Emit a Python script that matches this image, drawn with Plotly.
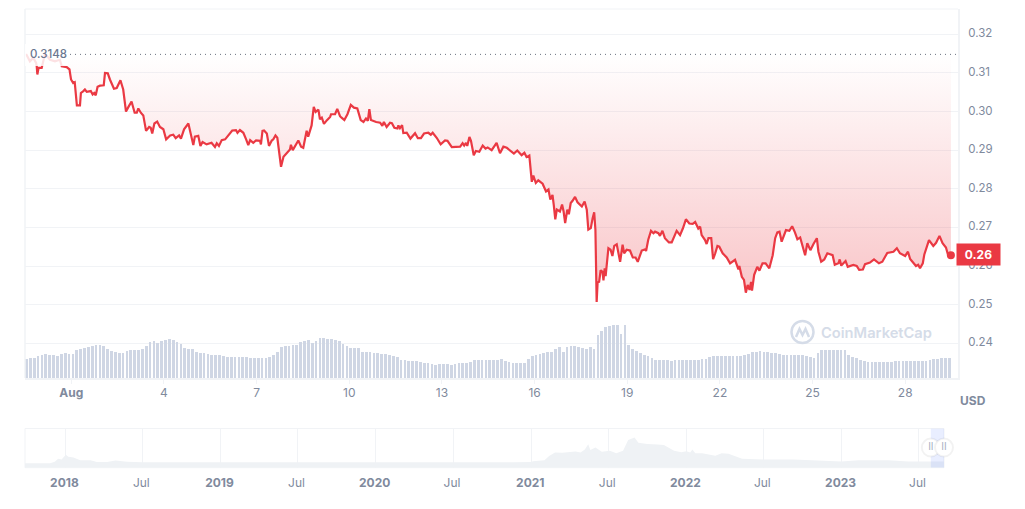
import pandas as pd
import plotly.graph_objects as go

W, H = 1025, 509

# price, days since 1 Aug 2023
price_days = [
    -1.48, -1.45, -1.34, -1.23, -1.14, -1.12, -1.10, -1.06, -0.96, -0.85, -0.69, -0.53, -0.37, -0.31, -0.15, -0.06, -0.01,
    0.06, 0.11, 0.15, 0.18, 0.28, 0.31, 0.39, 0.44, 0.50, 0.63, 0.69, 0.74, 0.79, 0.85, 0.93, 1.05, 1.09, 1.18, 1.25,
    1.38, 1.47, 1.59, 1.68, 1.77, 1.85, 1.95, 2.05, 2.12, 2.17, 2.25, 2.33, 2.42, 2.52, 2.57, 2.62, 2.69, 2.78, 2.87, 2.98,
    3.07, 3.20, 3.30, 3.38, 3.49, 3.55, 3.65, 3.79, 3.88, 3.95, 4.00, 4.11, 4.18, 4.25, 4.38, 4.54, 4.65, 4.71, 4.78, 4.87, 4.98,
    5.14, 5.21, 5.33, 5.38, 5.46, 5.57, 5.66, 5.73, 5.79, 5.89, 5.98, 6.11, 6.14, 6.19, 6.24, 6.33, 6.40, 6.49, 6.54, 6.61, 6.67,
    6.74, 6.79, 6.87, 6.97, 7.08, 7.11, 7.17, 7.35, 7.44, 7.51, 7.62, 7.67, 7.78, 7.85, 7.91, 8.00, 8.05, 8.11, 8.18, 8.27, 8.38, 8.41, 8.54, 8.61, 8.70,
    8.75, 8.84, 8.94, 8.99, 9.05, 9.15, 9.26, 9.37, 9.46, 9.54, 9.60, 9.65, 9.70, 9.87, 10.00, 10.07, 10.12, 10.21, 10.32, 10.38,
    10.46, 10.56, 10.59, 10.64, 10.71, 10.75, 10.86, 10.98, 11.13, 11.22, 11.32, 11.42, 11.56, 11.64, 11.70, 11.83, 11.96, 12.10, 12.18, 12.32,
    12.42, 12.59, 12.67, 12.72, 12.78, 12.82, 12.89, 12.94, 13.03, 13.10, 13.21, 13.32, 13.41, 13.48, 13.61, 13.70, 13.77, 13.88, 13.99, 14.10,
    14.23, 14.33, 14.44, 14.58, 14.67, 14.74, 14.83, 14.87, 14.91, 14.96, 15.04, 15.12, 15.26, 15.37, 15.45, 15.51, 15.58, 15.62, 15.67, 15.72,
    15.82, 15.89, 15.94, 15.99, 16.06, 16.11, 16.17, 16.23, 16.31, 16.39, 16.53, 16.62, 16.69, 16.74, 16.82, 16.88, 16.93, 16.97, 17.01, 17.04,
    17.09, 17.14, 17.20, 17.23, 17.27, 17.30, 17.39, 17.46, 17.52, 17.58, 17.66, 17.77, 17.85, 17.90, 17.98, 18.09, 18.18, 18.27, 18.34, 18.47,
    18.58, 18.61, 18.68, 18.77, 18.85, 18.90, 19.01, 19.06, 19.14, 19.22, 19.35, 19.44, 19.60, 19.71,
    19.80, 19.90, 20.01, 20.12, 20.20, 20.30, 20.36, 20.41, 20.52, 20.57, 20.63, 20.72, 20.78, 20.85, 20.92, 20.98, 21.09, 21.22, 21.33, 21.49,
    21.60, 21.63, 21.71, 21.78, 21.84, 21.90, 21.96, 22.01, 22.04, 22.11, 22.21, 22.28, 22.38, 22.48, 22.60, 22.71, 22.79, 22.86, 22.93, 23.00,
    23.14, 23.25, 23.34, 23.43, 23.51, 23.60, 23.68, 23.76, 23.83, 23.93, 24.03, 24.14, 24.19, 24.28, 24.38, 24.48, 24.65, 24.72, 24.84, 24.88,
    24.93, 25.07, 25.14, 25.32, 25.43, 25.51, 25.63, 25.70, 25.86, 25.99, 26.15, 26.26, 26.42, 26.62, 26.73, 26.83, 27.00, 27.09, 27.16, 27.29,
    27.35, 27.42, 27.48, 27.57, 27.62, 27.77, 27.86, 27.91, 28.00, 28.11, 28.21, 28.32, 28.39, 28.48,
]
prices = [
    .3147, .3147, .3130, .3139, .3126, .3117, .3096, .3113, .3113, .3150, .3134, .3130, .3134, .3117, .3115, .3109, .3083,
    .3074, .3076, .3048, .3016, .3016, .3048, .3053, .3057, .3051, .3053, .3044, .3048, .3042, .3064, .3067, .3068, .3100, .3099, .3083,
    .3059, .3061, .3081, .3057, .3000, .3012, .3026, .2997, .2997, .3008, .2997, .2990, .2950, .2960, .2958, .2943, .2969, .2974, .2960, .2954,
    .2928, .2938, .2940, .2931, .2938, .2930, .2954, .2969, .2932, .2913, .2935, .2937, .2911, .2921, .2915, .2919, .2908, .2918, .2911, .2926, .2928,
    .2943, .2951, .2952, .2945, .2952, .2945, .2928, .2913, .2926, .2919, .2925, .2924, .2915, .2950, .2951, .2943, .2911, .2925, .2928, .2938, .2932,
    .2889, .2857, .2883, .2892, .2902, .2914, .2900, .2925, .2909, .2906, .2950, .2935, .2964, .3012, .2999, .3005, .2980, .2984, .2968, .2977, .2986, .2993, .2993, .3007, .2988,
    .2984, .2978, .2993, .3006, .3017, .3010, .3008, .2978, .2973, .2982, .2976, .3006, .2978, .2973, .2971, .2963, .2973, .2960, .2971, .2970,
    .2958, .2956, .2964, .2957, .2965, .2944, .2945, .2930, .2944, .2931, .2931, .2943, .2945, .2940, .2945, .2932, .2915, .2925, .2924, .2908,
    .2909, .2909, .2918, .2912, .2919, .2911, .2934, .2924, .2887, .2898, .2896, .2912, .2904, .2907, .2900, .2911, .2919, .2892, .2909, .2906,
    .2898, .2891, .2899, .2887, .2893, .2882, .2886, .2854, .2818, .2834, .2815, .2822, .2813, .2793, .2798, .2772, .2784, .2759, .2721, .2746,
    .2741, .2759, .2741, .2711, .2746, .2734, .2763, .2769, .2779, .2765, .2754, .2767, .2746, .2694, .2698, .2724, .2739, .2694, .2507, .2557,
    .2559, .2589, .2585, .2563, .2594, .2574, .2646, .2642, .2626, .2652, .2656, .2611, .2655, .2633, .2642, .2640, .2622, .2622, .2611, .2640,
    .2643, .2639, .2668, .2691, .2685, .2689, .2685, .2678, .2691, .2672, .2661, .2661, .2691, .2680,
    .2697, .2721, .2710, .2709, .2714, .2697, .2702, .2680, .2667, .2657, .2672, .2672, .2618, .2633, .2652, .2650, .2633, .2622, .2607, .2616,
    .2591, .2600, .2572, .2564, .2531, .2551, .2538, .2559, .2536, .2577, .2598, .2588, .2607, .2607, .2594, .2628, .2672, .2687, .2689, .2663,
    .2693, .2691, .2703, .2687, .2669, .2674, .2654, .2628, .2659, .2641, .2657, .2672, .2637, .2611, .2617, .2633, .2628, .2603, .2607, .2617,
    .2601, .2613, .2598, .2603, .2600, .2590, .2591, .2605, .2609, .2617, .2607, .2611, .2634, .2637, .2646, .2633, .2626, .2637, .2618, .2607,
    .2600, .2603, .2594, .2607, .2630, .2667, .2656, .2652, .2660, .2678, .2659, .2648, .2628, .2628,
]
base_price = 0.3148

# 3-hourly volume, arbitrary units
volumes = [
    57, 59, 60, 67, 70, 72, 70, 69, 67, 72, 74, 72, 72, 84, 87, 90, 93, 95, 100, 98, 96, 87, 80, 78, 75, 74, 80, 83, 85, 85,
    86, 95, 107, 112, 105, 110, 115, 116, 113, 107, 102, 91, 88, 88, 78, 76, 74, 71, 70, 70, 69, 65, 64, 64, 64, 64, 64, 64, 61, 61,
    61, 61, 61, 64, 70, 77, 92, 96, 97, 98, 100, 109, 112, 114, 104, 112, 119, 120, 118, 117, 114, 112, 102, 95, 91, 89, 89, 79, 79, 79,
    76, 75, 73, 71, 69, 67, 62, 55, 53, 52, 52, 52, 47, 46, 45, 43, 40, 42, 42, 41, 40, 43, 45, 46, 46, 47, 53, 55, 55, 55,
    55, 55, 55, 58, 52, 48, 46, 45, 45, 45, 57, 67, 70, 72, 74, 77, 79, 87, 94, 77, 94, 96, 95, 93, 89, 87, 94, 87, 130, 142,
    152, 157, 159, 158, 132, 158, 100, 88, 80, 74, 69, 65, 60, 55, 55, 54, 53, 52, 54, 54, 53, 53, 53, 54, 55, 56, 58, 63, 66, 66,
    66, 66, 66, 66, 66, 66, 70, 73, 78, 79, 80, 79, 77, 76, 74, 73, 70, 69, 69, 69, 68, 68, 66, 64, 60, 75, 83, 83, 84, 85,
    84, 84, 83, 70, 62, 59, 55, 51, 48, 48, 47, 47, 47, 47, 49, 50, 50, 51, 52, 52, 52, 51, 50, 52, 54, 56, 58, 59, 59, 59,
]

# navigator: full price history
nav_dates = [
    "2017-09-28", "2017-11-26", "2017-12-07", "2017-12-15", "2017-12-23", "2018-01-02", "2018-01-08", "2018-01-20", "2018-02-05", "2018-03-01",
    "2018-03-16", "2018-04-09", "2018-04-29", "2018-05-26", "2018-07-01", "2018-07-29", "2018-09-08", "2019-01-01", "2019-07-01", "2020-01-01",
    "2020-07-01", "2020-11-20", "2021-01-01", "2021-01-05", "2021-02-01", "2021-02-12", "2021-02-26", "2021-03-15", "2021-04-15", "2021-04-27",
    "2021-05-07", "2021-05-15", "2021-05-20", "2021-06-01", "2021-06-16", "2021-07-05", "2021-07-20", "2021-08-05", "2021-08-17", "2021-09-01",
    "2021-09-10", "2021-10-01", "2021-10-25", "2021-11-09", "2021-12-03", "2021-12-20", "2022-01-01", "2022-01-10", "2022-01-15", "2022-01-22",
    "2022-02-07", "2022-03-10", "2022-03-25", "2022-04-10", "2022-05-12", "2022-06-03", "2022-07-01", "2022-09-10", "2023-01-01", "2023-02-10",
    "2023-04-20", "2023-06-08", "2023-07-28", "2023-08-30",
]
nav_prices = [
    .18, .18, .25, .37, .34, .53, .45, .42, .31, .31,
    .23, .23, .30, .25, .22, .22, .19, .19, .19, .19,
    .22, .22, .23, .27, .31, .48, .63, .62, .67, .63,
    .75, .97, .73, .83, .66, .70, .60, .70, 1.14, 1.24,
    1.03, .98, .96, .93, .70, .64, .68, .63, .75, .60,
    .60, .49, .60, .57, .37, .36, .34, .34, .26, .31,
    .31, .26, .26, .26,
]
nav_range = ["2023-07-30", "2023-08-30"]
nav_top = 1.614

main_tick_days = [0, 3, 6, 9, 12, 15, 18, 21, 24, 27]
main_tick_text = ["<b>Aug</b>", "4", "7", "10", "13", "16", "19", "22", "25", "28"]
y_ticks = [0.24, 0.25, 0.26, 0.27, 0.28, 0.29, 0.30, 0.31, 0.32]
nav_ticks = ["2018-01-01", "2018-07-01", "2019-01-01", "2019-07-01", "2020-01-01", "2020-07-01",
             "2021-01-01", "2021-07-01", "2022-01-01", "2022-07-01", "2023-01-01", "2023-07-01"]
nav_tick_text = ["<b>2018</b>", "Jul", "<b>2019</b>", "Jul", "<b>2020</b>", "Jul",
                 "<b>2021</b>", "Jul", "<b>2022</b>", "Jul", "<b>2023</b>", "Jul"]

RED = "#EA3943"
GREY = "#808A9D"
GRID = "#F1F3F6"
FONT = "Inter"

aug1 = pd.Timestamp("2023-08-01")
def day(d):
    return aug1 + pd.to_timedelta(d, unit="D")

def px(x):
    return x / W

def py(y):
    return 1 - y / H

x_price = [day(d) for d in price_days]
x_vol = pd.date_range(day(-1.45), periods=len(volumes), freq="3h")

fig = go.Figure()

fig.add_trace(go.Bar(x=x_vol, y=volumes, width=7.6e6, marker=dict(color="#CFD6E4", line_width=0),
                     xaxis="x", yaxis="y2", hoverinfo="skip"))
fig.add_trace(go.Scatter(x=x_price, y=[base_price] * len(x_price), mode="lines", line=dict(width=0),
                         xaxis="x", yaxis="y", hoverinfo="skip"))
fig.add_trace(go.Scatter(x=x_price, y=prices, mode="lines", line=dict(color=RED, width=2.2),
                         fill="tonexty",
                         fillgradient=dict(type="vertical", start=0.2507, stop=base_price,
                                           colorscale=[[0, "rgba(234,57,67,0.30)"], [1, "rgba(234,57,67,0.0)"]]),
                         xaxis="x", yaxis="y"))
fig.add_trace(go.Scatter(x=[x_price[-1]], y=[prices[-1]], mode="markers",
                         marker=dict(color=RED, size=8), xaxis="x", yaxis="y", cliponaxis=False))

fig.add_trace(go.Scatter(x=nav_dates, y=nav_prices, mode="lines", line=dict(width=0),
                         fill="tozeroy", fillcolor="#EFF2F5", xaxis="x2", yaxis="y3", hoverinfo="skip"))
# selected range, then its two handles on top
fig.add_trace(go.Scatter(x=nav_range, y=[nav_top, nav_top], mode="lines", line=dict(width=0),
                         fill="tozeroy", fillcolor="rgba(56,97,251,0.11)", xaxis="x2", yaxis="y3", hoverinfo="skip"))
fig.add_trace(go.Scatter(x=nav_range, y=[0.83, 0.83], mode="markers+text", text=["II", "II"],
                         textposition="middle center", textfont=dict(family=FONT, size=10, color="#A6B0C3"),
                         marker=dict(color="white", size=18, line=dict(color="rgba(0,0,0,0.05)", width=2)),
                         xaxis="x2", yaxis="y3", cliponaxis=False, hoverinfo="skip"))

fig.update_layout(
    width=W, height=H, margin=dict(l=0, r=0, t=0, b=0), showlegend=False,
    paper_bgcolor="white", plot_bgcolor="white", bargap=0,
    font=dict(family=FONT, size=12, color=GREY),
    xaxis=dict(domain=[px(25), px(958)], range=[day(-1.5), day(28.71)], anchor="y",
               tickmode="array", tickvals=[day(d) for d in main_tick_days], ticktext=main_tick_text,
               showgrid=False, zeroline=False, showline=True, linecolor=GRID, linewidth=2,
               ticks="outside", ticklen=4, tickcolor=GRID, ticklabelstandoff=-1, tickfont=dict(size=12, color=GREY)),
    yaxis=dict(domain=[py(378), py(9)], range=[0.2310, 0.32655], side="right", anchor="x",
               tickmode="array", tickvals=y_ticks, tickformat=".2f",
               showgrid=True, gridcolor=GRID, gridwidth=1, zeroline=False,
               showline=True, linecolor=GRID, linewidth=2, ticks="", ticklabelstandoff=6, ticklabelshift=-1,
               tickfont=dict(size=11.5, color=GREY)),
    yaxis2=dict(domain=[py(378), py(9)], range=[0, 1107], overlaying="y", anchor="x", visible=False),
    xaxis2=dict(domain=[px(25), px(944)], range=["2017-09-28", "2023-08-30"], anchor="y3",
                tickmode="array", tickvals=nav_ticks, ticktext=nav_tick_text,
                showgrid=True, gridcolor=GRID, zeroline=False, showline=False, ticks="",
                ticklabelstandoff=6, ticklabelshift=-1, tickfont=dict(size=12, color=GREY)),
    yaxis3=dict(domain=[py(467.7), py(428.5)], range=[0, nav_top], anchor="x2",
                showgrid=False, zeroline=False, showticklabels=False, ticks=""),
)

fig.update_layout(shapes=[
    # top edge and left edge of the main plot
    dict(type="line", xref="paper", yref="paper", x0=px(25), x1=px(958), y0=py(9), y1=py(9),
         line=dict(color=GRID, width=1)),
    dict(type="line", xref="paper", yref="paper", x0=px(25), x1=px(25), y0=py(9), y1=py(378),
         line=dict(color=GRID, width=1.5)),
    # white veil behind the base price label
    dict(type="rect", xref="paper", yref="paper", x0=px(25), x1=px(68), y0=py(66), y1=py(44),
         fillcolor="rgba(255,255,255,0.85)", line_width=0, layer="above"),
    # base price dotted line
    dict(type="line", xref="paper", yref="y", x0=px(70), x1=px(958), y0=base_price, y1=base_price,
         line=dict(color="#6B7280", width=1, dash="1px 4px")),
    # navigator frame
    dict(type="rect", xref="paper", yref="paper", x0=px(25), x1=px(944), y0=py(467.7), y1=py(428.5),
         line=dict(color=GRID, width=1), layer="below"),
    # watermark logo
    dict(type="circle", xref="paper", yref="paper", x0=px(791.5), x1=px(813.5), y0=py(343), y1=py(321),
         line=dict(color="#D5DCE8", width=2.5)),
    dict(type="path", xref="paper", yref="paper",
         path=f"M {px(796)} {py(337)} L {px(799.5)} {py(329)} L {px(802.5)} {py(335)} L {px(805.5)} {py(329)} L {px(809)} {py(337)}",
         line=dict(color="#D5DCE8", width=2.5)),
])

fig.update_layout(annotations=[
    dict(text="0.3148", xref="paper", yref="y", x=px(28), y=base_price, xanchor="left", yanchor="middle",
         showarrow=False, font=dict(family=FONT, size=11.5, color="#6B7790", weight=500)),
    dict(text="<b>0.26</b>", xref="paper", yref="paper", x=px(978.5), y=py(254.5), xanchor="center", yanchor="middle",
         showarrow=False, width=41, height=19, bgcolor=RED, font=dict(family=FONT, size=12, color="white")),
    dict(text="<b>USD</b>", xref="paper", yref="paper", x=px(973), y=py(400.5), xanchor="center", yanchor="middle",
         showarrow=False, font=dict(family=FONT, size=12, color=GREY)),
    dict(text="CoinMarketCap", xref="paper", yref="paper", x=px(819), y=py(333), xanchor="left", yanchor="middle",
         showarrow=False, font=dict(family=FONT, size=14.7, color="#D5DCE8", weight=600)),
])

fig.write_html("out.html", config={"displayModeBar": False},
               post_script="document.body.style.margin='0';document.body.style.overflow='hidden';")
